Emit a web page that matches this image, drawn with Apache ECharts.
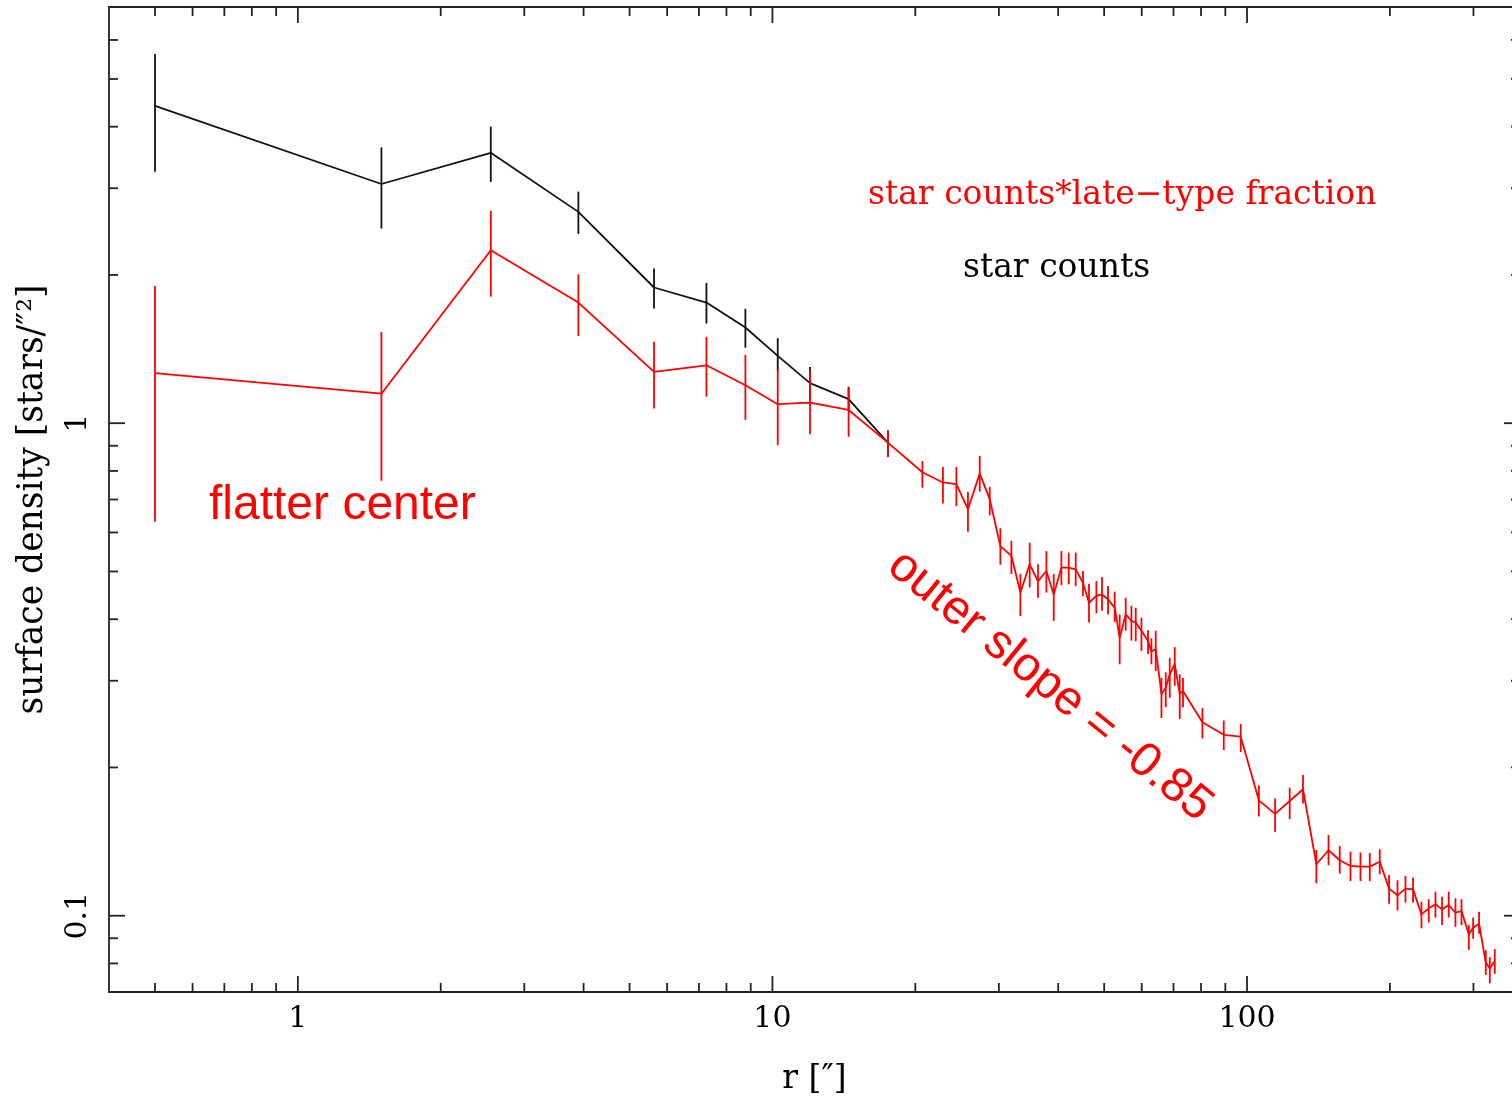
<!DOCTYPE html>
<html><head><meta charset="utf-8">
<script src="https://cdn.jsdelivr.net/npm/echarts@6/dist/echarts.min.js"></script>
<style>html,body{margin:0;padding:0;background:#fff;overflow:hidden}#c{width:1512px;height:1098px}</style>
</head><body><div id="c"></div>
<script>
// ---- data: star counts * late-type fraction (red) ----
const rRed = [0.5, 1.5, 2.55, 3.9, 5.63, 7.26, 8.77, 10.26, 12.0, 14.47, 17.51, 20.70, 22.87, 24.41, 25.82, 27.34, 28.70, 30.22, 31.88, 33.30,
  34.84, 36.27, 37.78, 39.15, 40.63, 42.10, 43.55, 45.12, 46.45, 48.15, 49.48, 50.94, 52.62, 53.91, 55.51, 57.07, 58.28, 59.91, 61.86, 62.88,
  64.21, 66.02, 67.41, 68.73, 70.42, 72.15, 73.30, 80.54, 89.32, 97.0, 105.9, 114.6, 123.0, 131.2, 140.0, 148.5, 156.8, 165.2, 173.4, 181.4,
  190.4, 199.2, 207.5, 215.7, 223.8, 233.1, 241.5, 249.5, 257.6, 266.1, 274.9, 283.1, 293.3, 299.5, 308.3, 318.5, 324.8, 332.7];
const densRed = [1.264, 1.148, 2.245, 1.758, 1.271, 1.311, 1.194, 1.093, 1.101, 1.064, 0.913, 0.795, 0.758, 0.752, 0.669, 0.790, 0.701, 0.563, 0.538, 0.453,
  0.517, 0.478, 0.501, 0.449, 0.509, 0.509, 0.505, 0.474, 0.432, 0.446, 0.449, 0.439, 0.422, 0.367, 0.409, 0.397, 0.394, 0.379, 0.361, 0.344,
  0.348, 0.282, 0.290, 0.309, 0.324, 0.282, 0.286, 0.247, 0.233, 0.231, 0.1715, 0.161, 0.171, 0.1806, 0.1272, 0.1358, 0.1296, 0.1262, 0.1258, 0.1258,
  0.1287, 0.1135, 0.1100, 0.1135, 0.1131, 0.1006, 0.1035, 0.1055, 0.1030, 0.1051, 0.1014, 0.1022, 0.0917, 0.0945, 0.0963, 0.0803, 0.0782, 0.0809];
const errLoRed = [0.631, 0.764, 1.807, 1.504, 1.071, 1.132, 1.016, 0.902, 0.950, 0.939, 0.854, 0.740, 0.687, 0.679, 0.602, 0.726, 0.650, 0.516, 0.494, 0.406,
  0.464, 0.442, 0.453, 0.397, 0.469, 0.471, 0.467, 0.446, 0.394, 0.411, 0.416, 0.409, 0.395, 0.324, 0.379, 0.362, 0.361, 0.345, 0.340, 0.324,
  0.314, 0.252, 0.265, 0.277, 0.293, 0.251, 0.265, 0.229, 0.217, 0.215, 0.159, 0.148, 0.157, 0.169, 0.1164, 0.1266, 0.1217, 0.1176, 0.1176, 0.1176,
  0.1214, 0.1058, 0.1025, 0.1063, 0.1063, 0.0943, 0.0968, 0.0991, 0.0957, 0.0991, 0.0949, 0.0957, 0.0852, 0.0898, 0.0919, 0.0758, 0.0729, 0.0762];
const errHiRed = [1.900, 1.532, 2.699, 2.007, 1.463, 1.497, 1.376, 1.289, 1.277, 1.181, 0.968, 0.838, 0.815, 0.815, 0.726, 0.858, 0.742, 0.612, 0.577, 0.494,
  0.572, 0.517, 0.550, 0.494, 0.550, 0.546, 0.546, 0.501, 0.472, 0.478, 0.487, 0.467, 0.455, 0.409, 0.442, 0.426, 0.422, 0.403, 0.380, 0.366,
  0.379, 0.304, 0.312, 0.334, 0.351, 0.309, 0.304, 0.264, 0.249, 0.245, 0.184, 0.173, 0.182, 0.193, 0.136, 0.1459, 0.1385, 0.1349, 0.1344, 0.1341,
  0.1364, 0.121, 0.118, 0.1204, 0.1195, 0.1067, 0.1080, 0.1119, 0.1093, 0.1119, 0.1085, 0.1080, 0.0957, 0.0991, 0.1019, 0.0851, 0.0824, 0.0855];

// ---- data: star counts (black) ----
const rBlack = [0.5, 1.5, 2.55, 3.9, 5.63, 7.26, 8.77, 10.26, 12.0, 14.47, 17.51];
const densBlack = [4.41, 3.06, 3.54, 2.686, 1.886, 1.758, 1.564, 1.370, 1.206, 1.119, 0.913];
const errLoBlack = [3.24, 2.485, 3.09, 2.423, 1.709, 1.594, 1.424, 1.277, 1.12, 1.059, 0.854];
const errHiBlack = [5.62, 3.63, 4.00, 2.953, 2.061, 1.927, 1.707, 1.488, 1.301, 1.185, 0.968];

// ---- ticks / labels ----
const xMajorTicks = [1, 10, 100];
const xLabels = ['1', '10', '100'];
const xMinorTicks = [0.5, 0.6, 0.7, 0.8, 0.9, 2, 3, 4, 5, 6, 7, 8, 9, 20, 30, 40, 50, 60, 70, 80, 90, 200, 300];
const yMajorTicks = [0.1, 1];
const yLabels = ['0.1', '1'];
const yMinorTicks = [0.08, 0.09, 0.2, 0.3, 0.4, 0.5, 0.6, 0.7, 0.8, 0.9, 2, 3, 4, 5, 6];

const X_MIN = 0.4, X_MAX = 376, Y_MIN = 0.07, Y_MAX = 7;
const FRAME = '#222';
const LW = 1.8;
const SERIF = '"DejaVu Serif", serif';

function labelFor(majors, labels) {
  return function (v) {
    for (let i = 0; i < majors.length; i++) {
      if (Math.abs(majors[i] - v) / majors[i] < 1e-6) return labels[i];
    }
    return '';
  };
}

function xTickSeries(values, len) {
  return {
    type: 'custom', silent: true, clip: false, z: 5,
    data: values.map(v => [v, Y_MIN]),
    encode: { x: 0, y: 1 },
    renderItem: function (params, api) {
      const v = api.value(0);
      const b = api.coord([v, Y_MIN]);
      const t = api.coord([v, Y_MAX]);
      return {
        type: 'group', children: [
          { type: 'line', shape: { x1: b[0], y1: b[1], x2: b[0], y2: b[1] - len }, style: { stroke: FRAME, lineWidth: LW } },
          { type: 'line', shape: { x1: t[0], y1: t[1], x2: t[0], y2: t[1] + len }, style: { stroke: FRAME, lineWidth: LW } }
        ]
      };
    }
  };
}
function yTickSeries(values, len) {
  return {
    type: 'custom', silent: true, clip: false, z: 5,
    data: values.map(v => [X_MIN, v]),
    encode: { x: 0, y: 1 },
    renderItem: function (params, api) {
      const v = api.value(1);
      const l = api.coord([X_MIN, v]);
      const r = api.coord([X_MAX, v]);
      return {
        type: 'group', children: [
          { type: 'line', shape: { x1: l[0], y1: l[1], x2: l[0] + len, y2: l[1] }, style: { stroke: FRAME, lineWidth: LW } },
          { type: 'line', shape: { x1: r[0], y1: r[1], x2: r[0] - len, y2: r[1] }, style: { stroke: FRAME, lineWidth: LW } }
        ]
      };
    }
  };
}
function errSeries(rs, lo, hi, color) {
  return {
    type: 'custom', silent: true, z: 3,
    data: rs.map((r, i) => [r, lo[i], hi[i]]),
    encode: { x: 0, y: [1, 2] },
    renderItem: function (params, api) {
      const p1 = api.coord([api.value(0), api.value(1)]);
      const p2 = api.coord([api.value(0), api.value(2)]);
      return { type: 'line', shape: { x1: p1[0], y1: p1[1], x2: p2[0], y2: p2[1] }, style: { stroke: color, lineWidth: LW } };
    }
  };
}

const chart = echarts.init(document.getElementById('c'), null, { renderer: 'canvas' });
chart.setOption({
  animation: false,
  backgroundColor: '#fff',
  textStyle: { fontFamily: SERIF },
  grid: { left: 109, top: 7, right: -8, bottom: 106, show: true, borderColor: FRAME, borderWidth: LW, backgroundColor: 'transparent', outerBoundsMode: 'none', containLabel: false },
  xAxis: {
    type: 'log', min: X_MIN, max: X_MAX, logBase: 10,
    axisLine: { show: false }, axisTick: { show: false }, splitLine: { show: false }, minorTick: { show: false },
    axisLabel: { formatter: labelFor(xMajorTicks, xLabels), showMinLabel: false, showMaxLabel: false, fontFamily: SERIF, fontSize: 30, color: '#000', margin: 12 },
    name: 'r [″]', nameLocation: 'middle', nameGap: 71,
    nameTextStyle: { fontFamily: SERIF, fontSize: 33, color: '#000' }
  },
  yAxis: {
    type: 'log', min: Y_MIN, max: Y_MAX, logBase: 10,
    axisLine: { show: false }, axisTick: { show: false }, splitLine: { show: false }, minorTick: { show: false },
    axisLabel: { formatter: labelFor(yMajorTicks, yLabels), showMinLabel: false, showMaxLabel: false, rotate: 90, fontFamily: SERIF, fontSize: 30, color: '#000', margin: 16 },
    name: 'surface density [stars/″²]', nameLocation: 'middle', nameGap: 58,
    nameTextStyle: { fontFamily: SERIF, fontSize: 34.5, color: '#000' }
  },
  series: [
    { type: 'line', name: 'star counts', data: rBlack.map((r, i) => [r, densBlack[i]]), symbol: 'none', lineStyle: { color: '#111', width: LW }, z: 2 },
    errSeries(rBlack, errLoBlack, errHiBlack, '#111'),
    { type: 'line', name: 'star counts*late-type fraction', data: rRed.map((r, i) => [r, densRed[i]]), symbol: 'none', lineStyle: { color: '#ff0000', width: LW }, z: 4 },
    errSeries(rRed, errLoRed, errHiRed, '#ff0000'),
    xTickSeries(xMajorTicks, 16), xTickSeries(xMinorTicks, 9),
    yTickSeries(yMajorTicks, 16), yTickSeries(yMinorTicks, 9)
  ],
  graphic: [
    { type: 'text', x: 868, y: 195, silent: true, style: { text: 'star counts*late−type fraction', fill: '#ff0000', font: '33px ' + SERIF, align: 'left', verticalAlign: 'middle' } },
    { type: 'text', x: 963, y: 268, silent: true, style: { text: 'star counts', fill: '#000', font: '33px ' + SERIF, align: 'left', verticalAlign: 'middle' } },
    { type: 'text', x: 209, y: 506, silent: true, style: { text: 'flatter center', fill: '#ff0000', font: '48px "Liberation Sans", Arial, sans-serif', align: 'left', verticalAlign: 'middle' } },
    { type: 'text', x: 1050, y: 686, rotation: -39 * Math.PI / 180, silent: true, style: { text: 'outer slope = -0.85', fill: '#ff0000', font: '48px "Liberation Sans", Arial, sans-serif', align: 'center', verticalAlign: 'middle' } }
  ]
});
</script>
</body></html>
